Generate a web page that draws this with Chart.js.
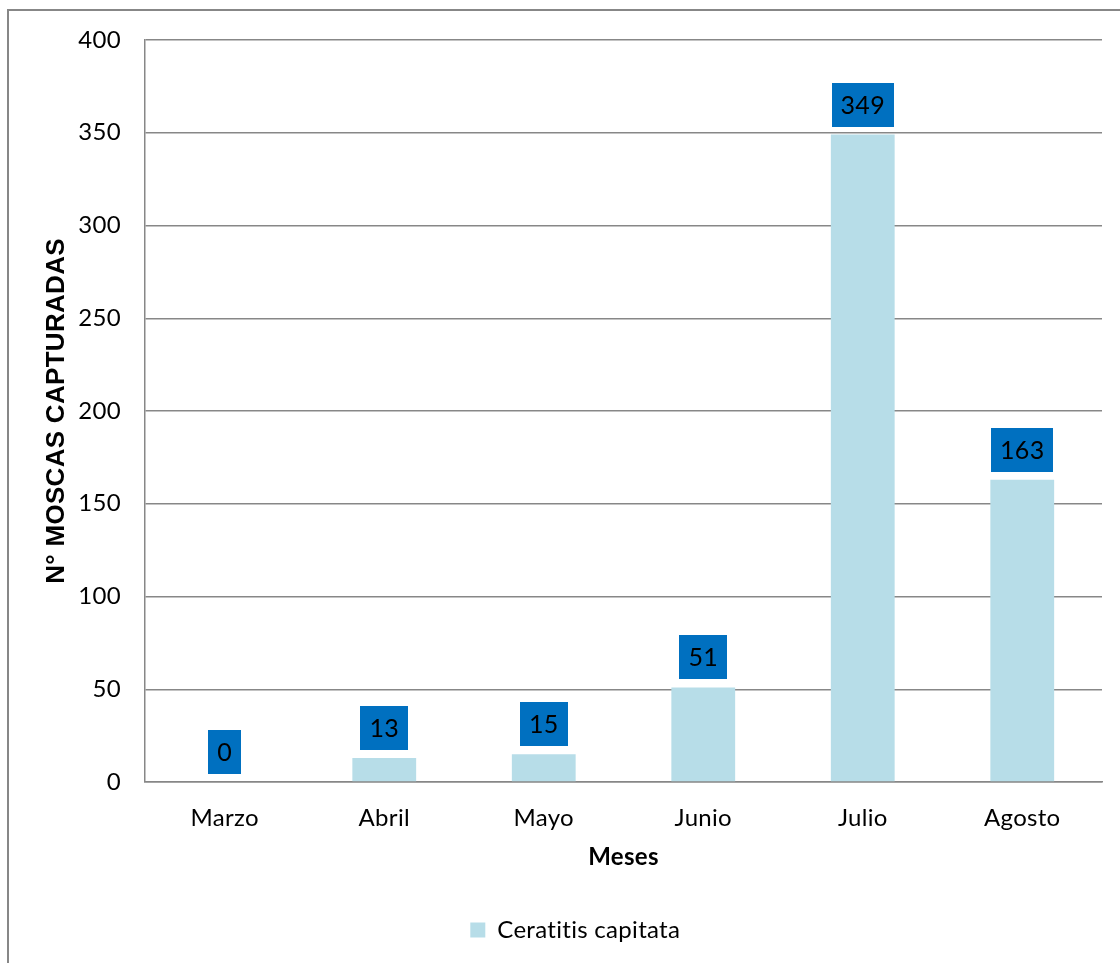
<!DOCTYPE html>
<html>
<head>
<meta charset="utf-8">
<title>N° moscas capturadas por mes</title>
<script src="https://cdn.jsdelivr.net/npm/chart.js@4/dist/chart.umd.min.js"></script>
<style>
  html, body { margin: 0; padding: 0; background: #ffffff; overflow: hidden; }
  #frame {
    position: absolute; left: 7px; top: 9px; width: 1200px; height: 1000px;
    border-left: 2px solid #878787; border-top: 2px solid #878787;
  }
  #wrap { position: absolute; left: 0; top: 0; width: 1120px; height: 963px; }
</style>
</head>
<body>
<div id="frame"></div>
<div id="wrap"><canvas id="chart" width="1120" height="963"></canvas></div>
<script>
// Monthly catches of Ceratitis capitata
const months = ['Marzo', 'Abril', 'Mayo', 'Junio', 'Julio', 'Agosto'];
const capturas = [0, 13, 15, 51, 349, 163];
const seriesName = 'Ceratitis capitata';
const yTicks = [0, 50, 100, 150, 200, 250, 300, 350, 400];

const BAR_COLOR = '#B7DDE8';
const LABEL_BG = '#0070C0';
const GRID = '#878787';
const BODY_FONT = 'Lato, "Open Sans", sans-serif';

// Slight tracking keeps letters separate (no "ti" ligature)
const tracking = {
  id: 'tracking',
  beforeDraw(chart) { chart.ctx.letterSpacing = '0.3px'; }
};

// Value boxes drawn above each bar, positioned from the bar elements
const valueBoxes = {
  id: 'valueBoxes',
  afterDatasetsDraw(chart) {
    const ctx = chart.ctx;
    const meta = chart.getDatasetMeta(0);
    const data = chart.data.datasets[0].data;
    ctx.save();
    ctx.font = '25px ' + BODY_FONT;
    ctx.textAlign = 'center';
    ctx.textBaseline = 'middle';
    meta.data.forEach((bar, i) => {
      const text = String(data[i]);
      const w = ctx.measureText(text).width + 18;
      const h = 44;
      const bottom = bar.y - 8;
      ctx.fillStyle = LABEL_BG;
      ctx.fillRect(Math.round(bar.x - w / 2), Math.round(bottom - h), Math.round(w), h);
      ctx.fillStyle = '#000000';
      ctx.fillText(text, bar.x, bottom - h / 2 + 1);
    });
    ctx.restore();
  }
};

new Chart(document.getElementById('chart'), {
  type: 'bar',
  data: {
    labels: months,
    datasets: [{
      label: seriesName,
      data: capturas,
      backgroundColor: BAR_COLOR,
      borderWidth: 0,
      barPercentage: 0.4,
      categoryPercentage: 1.0
    }]
  },
  options: {
    responsive: false,
    animation: false,
    devicePixelRatio: 1,
    layout: { padding: { left: 44, right: 18, top: 40, bottom: 11 } },
    plugins: {
      legend: {
        position: 'bottom',
        align: 'center',
        labels: {
          boxWidth: 15,
          boxHeight: 15,
          padding: 10,
          color: '#000000',
          font: { family: BODY_FONT, size: 24 }
        }
      },
      tooltip: { enabled: false }
    },
    scales: {
      x: {
        grid: { display: false, drawTicks: false },
        border: { display: true, color: GRID, width: 1.5 },
        ticks: {
          padding: 22,
          color: '#000000',
          font: { family: BODY_FONT, size: 24 }
        },
        title: {
          display: true,
          text: 'Meses',
          color: '#000000',
          font: { family: BODY_FONT, size: 24, weight: 'bold', lineHeight: 1.2 },
          padding: { top: 0, bottom: 36 }
        },
        afterFit(scale) { scale.height = 126; }
      },
      y: {
        min: 0,
        max: 400,
        afterBuildTicks(scale) { scale.ticks = yTicks.map(v => ({ value: v })); },
        grid: { color: GRID, lineWidth: 1.5, drawTicks: false },
        border: { display: true, color: GRID, width: 1.5 },
        ticks: {
          padding: 24,
          color: '#000000',
          font: { family: BODY_FONT, size: 24 }
        },
        title: {
          display: true,
          text: 'N° MOSCAS CAPTURADAS',
          color: '#000000',
          font: { family: '"Liberation Sans", Arial, sans-serif', size: 26, weight: 'bold', lineHeight: 1 },
          padding: { top: 0, bottom: 0 }
        },
        afterFit(scale) { scale.width = 101; }
      }
    }
  },
  plugins: [tracking, valueBoxes]
});
</script>
</body>
</html>
